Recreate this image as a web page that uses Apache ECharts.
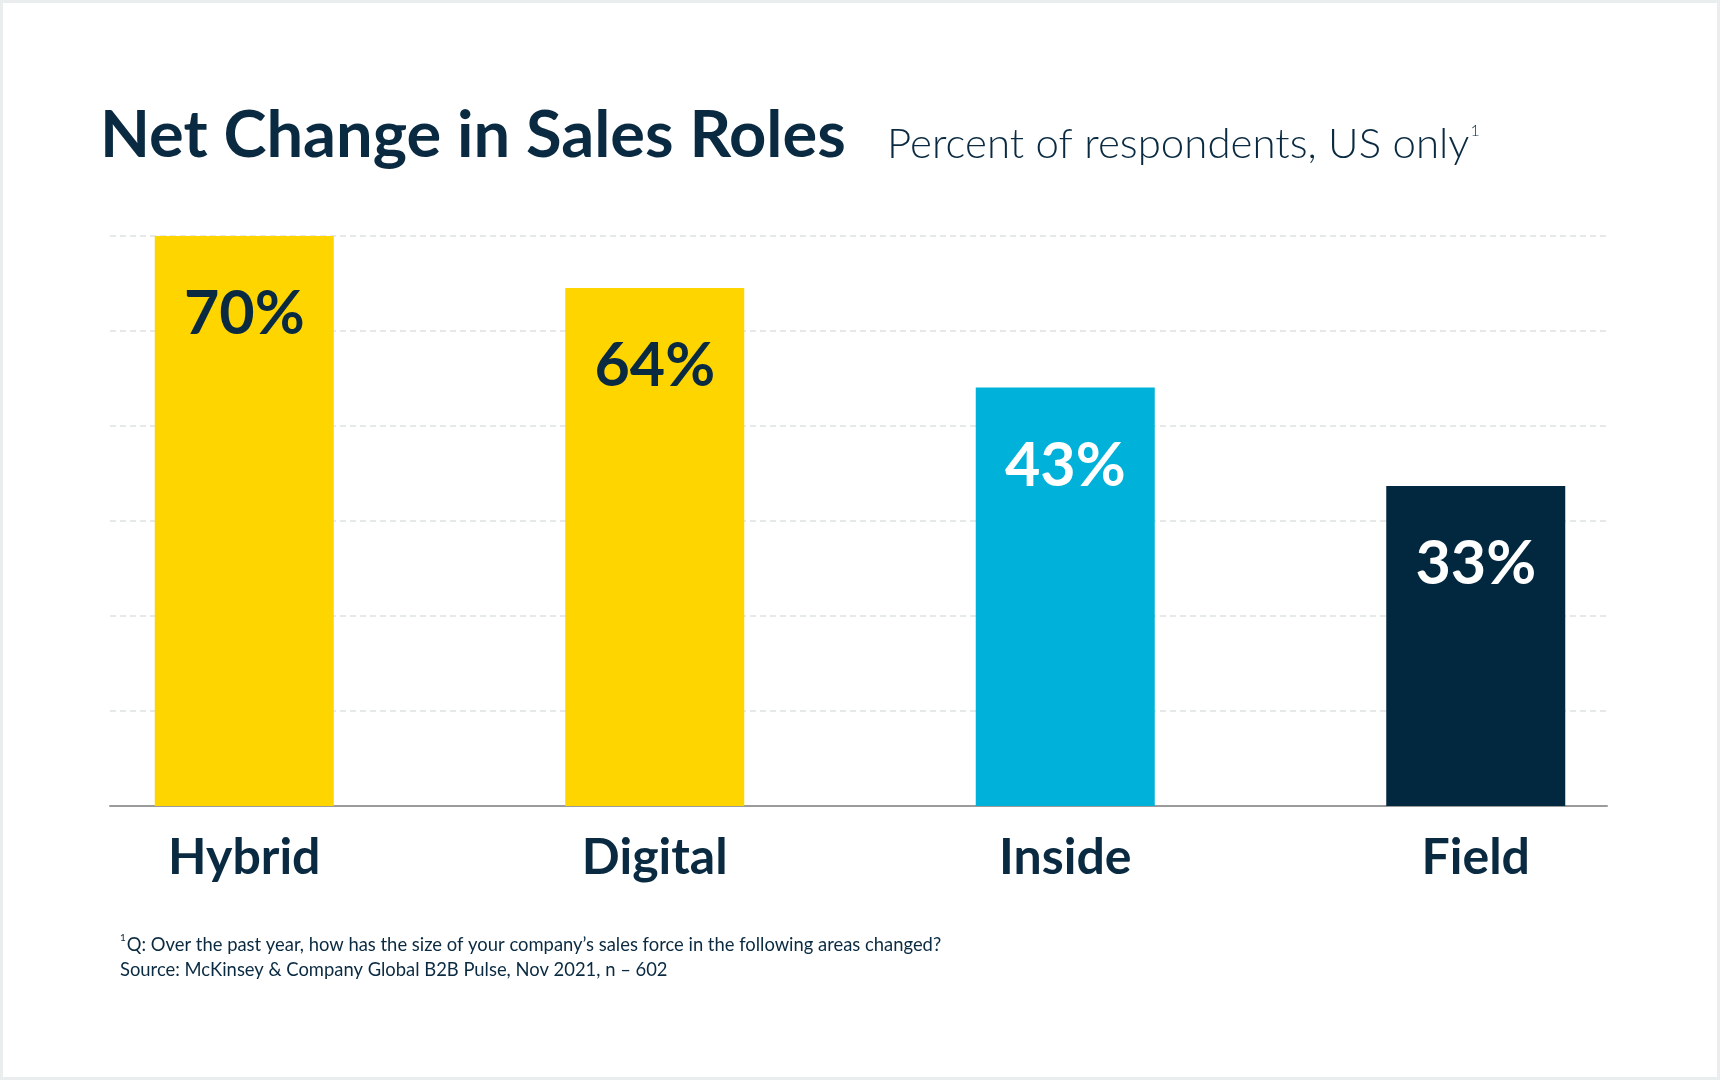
<!DOCTYPE html>
<html>
<head>
<meta charset="utf-8">
<title>Net Change in Sales Roles</title>
<script src="https://cdn.jsdelivr.net/npm/echarts@6/dist/echarts.min.js"></script>
<style>
  html, body { margin: 0; padding: 0; background: #fff; }
  #chart { width: 1714px; height: 1074px; border: 3px solid #e9eded; background: #fff; }
</style>
</head>
<body>
<div id="chart"></div>
<script>
// categories and printed values
var categories = ['Hybrid', 'Digital', 'Inside', 'Field'];
var valueLabels = ['70%', '64%', '43%', '33%'];
// bar heights as drawn in the reference, read on its 0-70 grid
var barHeights = [70, 63.6, 51.4, 39.3];
var barColors = ['#FFD500', '#FFD500', '#00B1DA', '#02283F'];
var labelColors = ['#0A2A41', '#0A2A41', '#FFFFFF', '#FFFFFF'];

var navy = '#0A2A41';
var font = 'Lato';

var chart = echarts.init(document.getElementById('chart'));

var option = {
    animation: false,
    textStyle: { fontFamily: font },
    title: [
        {
            text: 'Net Change in Sales Roles',
            left: 92,
            top: 96,
            textStyle: { fontFamily: font, fontSize: 65, fontWeight: 'bold', color: navy }
        },
        {
            text: 'Percent of respondents, US only{sup|1}',
            left: 879,
            top: 115,
            textStyle: {
                fontFamily: font, fontSize: 42, fontWeight: 300, color: navy,
                rich: {
                    sup: { fontFamily: font, fontSize: 16, color: navy, verticalAlign: 'top', padding: [0, 0, 24, 1] }
                }
            }
        },
        {
            text: '{s|1}Q: Over the past year, how has the size of your company\u2019s sales force in the following areas changed?\nSource: McKinsey & Company Global B2B Pulse, Nov 2021, n \u2013 602',
            left: 112,
            top: 925,
            textStyle: {
                fontFamily: font, fontSize: 18.4, fontWeight: 'normal', color: navy, lineHeight: 25,
                rich: {
                    s: { fontFamily: font, fontSize: 10, color: navy, verticalAlign: 'top', padding: [0, 1, 8, 0] }
                }
            }
        }
    ],
    grid: [
        { left: 107, right: 110, top: 233, bottom: 271 },
        { left: 36, right: 36, top: 233, bottom: 271 }
    ],
    xAxis: [
        {
            type: 'category',
            gridIndex: 0,
            data: categories,
            axisLine: { show: true, lineStyle: { color: '#9b9b9b', width: 2 } },
            axisTick: { show: false },
            axisLabel: { show: false }
        },
        {
            type: 'category',
            gridIndex: 1,
            data: categories,
            axisLine: { show: false },
            axisTick: { show: false },
            axisLabel: {
                margin: 27,
                fontFamily: font,
                fontSize: 50,
                fontWeight: 'bold',
                color: navy
            }
        }
    ],
    yAxis: [
        {
            type: 'value',
            gridIndex: 0,
            min: 0,
            max: 70,
            interval: 70 / 6,
            axisLine: { show: false },
            axisTick: { show: false },
            axisLabel: { show: false },
            splitLine: { show: true, lineStyle: { color: '#e6e9ea', width: 2, type: [6, 4] } }
        },
        {
            type: 'value',
            gridIndex: 1,
            min: 0,
            max: 70,
            show: false,
            splitLine: { show: false }
        }
    ],
    series: [
        {
            type: 'bar',
            xAxisIndex: 1,
            yAxisIndex: 1,
            barWidth: 179,
            z: 3,
            data: barHeights.map(function (v, i) {
                return {
                    value: v,
                    itemStyle: { color: barColors[i] },
                    label: { color: labelColors[i] }
                };
            }),
            label: {
                show: true,
                position: 'insideTop',
                distance: 48,
                fontFamily: font,
                fontSize: 61,
                fontWeight: 'bold',
                formatter: function (p) {
                    return valueLabels[p.dataIndex];
                }
            }
        }
    ]
};

chart.setOption(option);
</script>
</body>
</html>
